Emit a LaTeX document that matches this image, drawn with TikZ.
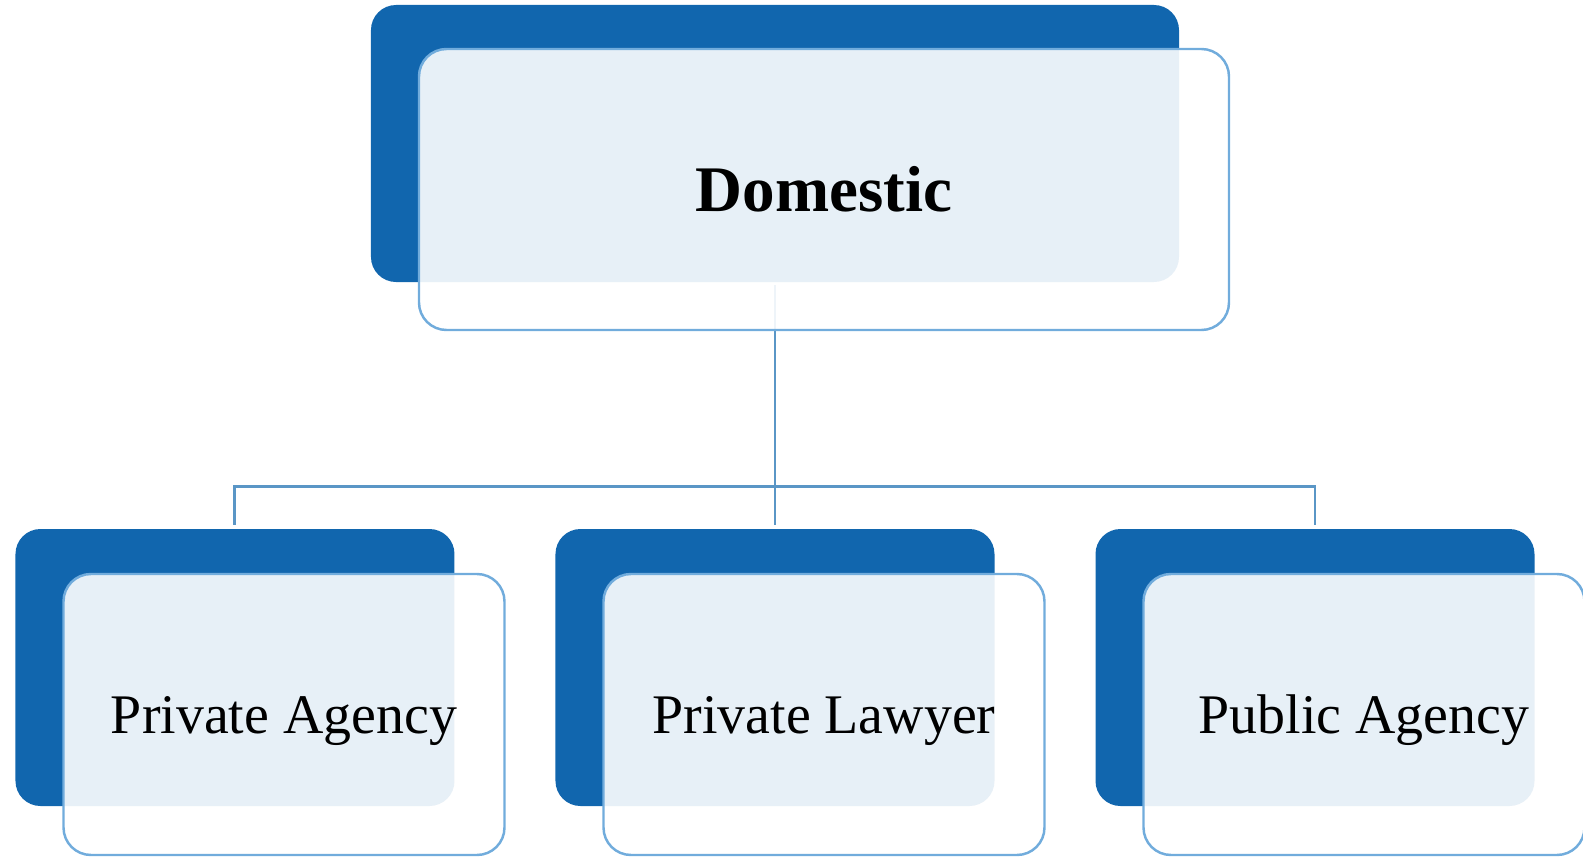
\documentclass[tikz,border=0pt]{standalone}
\usepackage{fontspec}
\setmainfont{Liberation Serif}
\definecolor{darkblue}{HTML}{1166AE}
\definecolor{rimblue}{HTML}{71ACDC}
\definecolor{linkblue}{HTML}{5A96C6}
\begin{document}
\begin{tikzpicture}[%
	level distance=10.48cm,
	darkbox/.style = {shape=rectangle, rounded corners=0.5cm, fill=darkblue, minimum width=16.16cm, minimum height=5.54cm},
	lightbox/.style = {shape=rectangle, rounded corners=0.55cm, draw=rimblue, line width=1.4pt, fill=white, fill opacity=.9, text opacity=1, minimum width=16.2cm, minimum height=5.62cm, align=center},
	narrow/.style = {minimum width=8.78cm},
	narrowlight/.style = {minimum width=8.82cm, text height=1cm, font=\fontsize{31.8}{38}\selectfont},
	level 1/.style={sibling distance=10.8cm},
	edge from parent/.style={draw=linkblue, line width=1.7pt},
	edge from parent path={([yshift=-0.06cm]\tikzparentnode.south) -- ++(0,-4.02cm) -| ([yshift=0.08cm]\tikzchildnode.north)}
	]
  \node [darkbox] (dom) {}
    child { node [darkbox, narrow] (pa) {} }
    child { node [darkbox, narrow] (pl) {} }
    child { node [darkbox, narrow] (pub) {} };
  \node [lightbox, font=\bfseries\fontsize{37}{42}\selectfont] (domL) at ([shift={(0.98cm,-0.92cm)}]dom.center) {Domestic};
  \foreach \n/\t in {pa/Private Agency, pl/Private Lawyer, pub/Public Agency}
    \node [lightbox, narrowlight] (\n L) at ([shift={(0.98cm,-0.94cm)}]\n.center) {\t};
  \pgfresetboundingbox
  \useasboundingbox (-15.5cm,2.87cm) rectangle (16.16cm,-14.33cm);
\end{tikzpicture}
\end{document}
